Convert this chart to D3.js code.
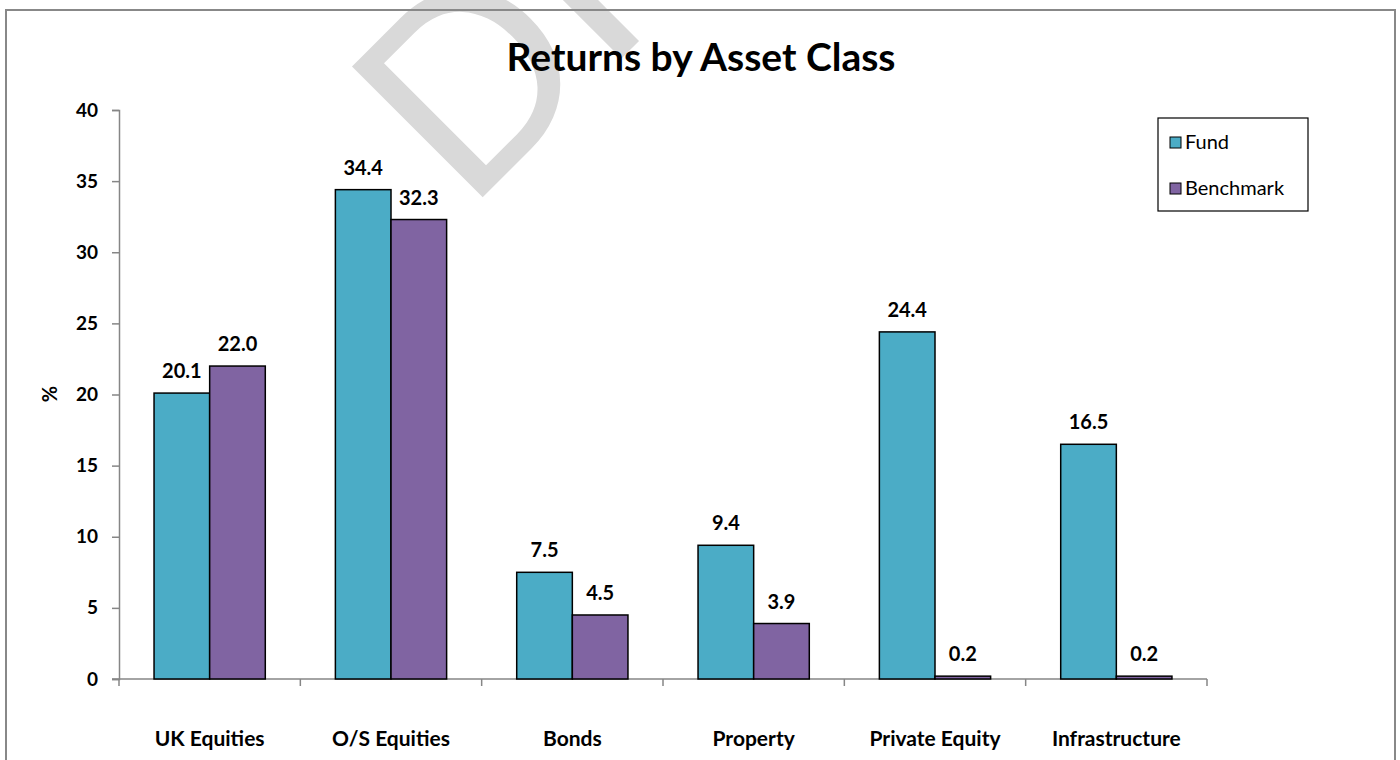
<!DOCTYPE html>
<html lang="en">
<head>
<meta charset="UTF-8">
<title>Returns by Asset Class</title>
<style>
  body { margin: 0; background: #fff; }
  svg text { font-family: Lato, "Open Sans", sans-serif; }
</style>
</head>
<body>
<svg id="chart" width="1400" height="760"></svg>

<script src="https://d3js.org/d3.v7.min.js"></script>
<script>
// data
var categories = ["UK Equities", "O/S Equities", "Bonds", "Property", "Private Equity", "Infrastructure"];
var seriesNames = ["Fund", "Benchmark"];
var fundValues = [20.1, 34.4, 7.5, 9.4, 24.4, 16.5];
var benchValues = [22.0, 32.3, 4.5, 3.9, 0.2, 0.2];
var yTicks = [0, 5, 10, 15, 20, 25, 30, 35, 40];
var colors = ["#4bacc6", "#8064a2"];

var rows = categories.map(function (c, i) {
  return { cat: c, vals: [fundValues[i], benchValues[i]] };
});

var svg = d3.select("#chart"),
  plotL = 119, plotR = 1207, plotT = 110, plotB = 679;

// watermark
svg.append("text")
  .attr("transform", "translate(466,214) rotate(-45)")
  .attr("font-size", 258)
  .attr("fill", "#d9d9d9")
  .text("DRAFT");

// outer frame
svg.append("rect")
  .attr("x", 6).attr("y", 10)
  .attr("width", 1389).attr("height", 770)
  .attr("fill", "none")
  .attr("stroke", "#888")
  .attr("stroke-width", 2);

var x = d3.scaleBand().domain(categories).range([plotL, plotR]).paddingInner(0).paddingOuter(0);
var x1 = d3.scaleBand().domain(seriesNames).range([0, x.bandwidth()]).paddingInner(0).paddingOuter(0.63);
var y = d3.scaleLinear().domain([0, 40]).range([plotB, plotT]);

// title
svg.append("text")
  .attr("x", 701).attr("y", 71)
  .attr("text-anchor", "middle")
  .attr("font-size", 39)
  .attr("font-weight", "bold")
  .text("Returns by Asset Class");

// y axis
var yAxis = svg.append("g")
  .attr("transform", "translate(" + plotL + ",0)")
  .call(d3.axisLeft(y).tickValues(yTicks).tickSize(7).tickPadding(14));
yAxis.selectAll("text").attr("font-size", 19).attr("font-weight", "bold").attr("fill", "#000")
  .style("font-family", "Lato, sans-serif");
yAxis.select(".domain").attr("stroke", "#868686").attr("stroke-width", 1.5);
yAxis.selectAll(".tick line").attr("stroke", "#868686").attr("stroke-width", 1.5);

// x axis with ticks at category boundaries
var xAxis = svg.append("g").attr("transform", "translate(0," + plotB + ")");
xAxis.append("line").attr("x1", plotL - 7).attr("x2", plotR).attr("stroke", "#868686").attr("stroke-width", 1.5);
xAxis.selectAll(".tk")
  .data(categories.concat([null]))
  .join("line")
  .attr("x1", function (d, i) { return i < categories.length ? x(d) : plotR; })
  .attr("x2", function (d, i) { return i < categories.length ? x(d) : plotR; })
  .attr("y1", 0).attr("y2", 7)
  .attr("stroke", "#868686").attr("stroke-width", 1.5);

xAxis.selectAll(".cat")
  .data(categories)
  .join("text")
  .attr("x", function (d) { return x(d) + x.bandwidth() / 2; })
  .attr("y", 67)
  .attr("text-anchor", "middle")
  .attr("font-size", 21)
  .attr("font-weight", "bold")
  .text(function (d) { return d; });

// y label
svg.append("text")
  .attr("transform", "translate(57,394) rotate(-90)")
  .attr("text-anchor", "middle")
  .attr("font-size", 20)
  .attr("font-weight", "bold")
  .text("%");

// bars
var groups = svg.selectAll(".grp")
  .data(rows)
  .join("g")
  .attr("transform", function (d) { return "translate(" + x(d.cat) + ",0)"; });

groups.selectAll("rect")
  .data(function (d) { return d.vals.map(function (v, i) { return { s: seriesNames[i], v: v, i: i }; }); })
  .join("rect")
  .attr("x", function (d) { return x1(d.s); })
  .attr("y", function (d) { return y(d.v); })
  .attr("width", x1.bandwidth())
  .attr("height", function (d) { return y(0) - y(d.v); })
  .attr("fill", function (d) { return colors[d.i]; })
  .attr("stroke", "#000")
  .attr("stroke-width", 1.5);

groups.selectAll(".lbl")
  .data(function (d) { return d.vals.map(function (v, i) { return { s: seriesNames[i], v: v }; }); })
  .join("text")
  .attr("x", function (d) { return x1(d.s) + x1.bandwidth() / 2; })
  .attr("y", function (d) { return y(d.v) - 15; })
  .attr("text-anchor", "middle")
  .attr("font-size", 20)
  .attr("font-weight", "bold")
  .text(function (d) { return d.v.toFixed(1); });

// legend
var legend = svg.append("g");
legend.append("rect")
  .attr("x", 1158).attr("y", 118).attr("width", 150).attr("height", 93)
  .attr("fill", "#fff").attr("stroke", "#000").attr("stroke-width", 1.2);
var items = legend.selectAll(".it")
  .data(seriesNames)
  .join("g")
  .attr("transform", function (d, i) { return "translate(1170," + (142 + i * 46) + ")"; });
items.append("rect")
  .attr("x", 0).attr("y", -5).attr("width", 11).attr("height", 11)
  .attr("fill", function (d, i) { return colors[i]; })
  .attr("stroke", "#000").attr("stroke-width", 1);
items.append("text")
  .attr("x", 15).attr("y", 7)
  .attr("font-size", 20)
  .text(function (d) { return d; });
</script>
</body>
</html>
